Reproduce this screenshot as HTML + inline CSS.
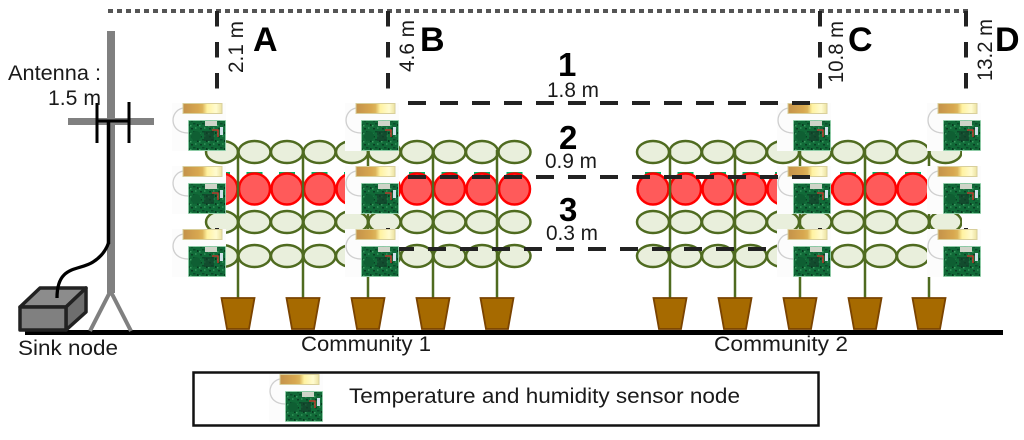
<!DOCTYPE html>
<html><head><meta charset="utf-8"><style>
html,body{margin:0;padding:0;background:#fff}
svg{display:block}
text{font-family:"Liberation Sans",sans-serif;fill:#1a1a1a}
.b{font-weight:bold;fill:#000;font-size:34px}
.n{font-weight:bold;fill:#000;font-size:33px}
.t{font-size:21px}
.e{fill:#e9efdc;stroke:#4f6b20;stroke-width:2.500}
.r{fill:#ff5a5a;stroke:#f00;stroke-width:2.500}
</style></head><body>
<svg width="1024" height="440" viewBox="0 0 1024 440" xmlns="http://www.w3.org/2000/svg">
<defs>
<linearGradient id="g1" x1="0" x2="1" y1="0" y2="0">
<stop offset="0" stop-color="#c4924a"/><stop offset=".4" stop-color="#d8a850"/><stop offset=".5" stop-color="#dcb45a"/><stop offset=".62" stop-color="#fff2a0"/><stop offset=".85" stop-color="#fffbd0"/><stop offset="1" stop-color="#ece2a0"/>
</linearGradient>
<pattern id="noise" width="9" height="8" patternUnits="userSpaceOnUse">
<rect width="9" height="8" fill="#116a38"/>
<rect x="1" y="1" width="2" height="1.500" fill="#0a3f24"/>
<rect x="5" y="0" width="1.500" height="2" fill="#2a8a52"/>
<rect x="3" y="4" width="2.500" height="1.500" fill="#0b4a2a"/>
<rect x="7" y="5" width="1.500" height="2" fill="#083a20"/>
<rect x="0" y="6" width="1.500" height="1.500" fill="#3a9a60"/>
</pattern>
<g id="sen">
<rect x="0" y="0" width="54" height="48" fill="#fcfcfc"/>
<path d="M11 5 C-3 8 -3 30 16 30" fill="none" stroke="#cfcfcf" stroke-width="1.300"/>
<rect x="11" y="0.500" width="39" height="10" fill="url(#g1)" stroke="#d8cf9c" stroke-width="1"/>
<rect x="16.500" y="17.500" width="37" height="30" fill="url(#noise)" stroke="#8fd0a8" stroke-width=".8"/>
<rect x="33" y="18" width="12" height="5" fill="#cfd4c8"/>
<circle cx="24" cy="33" r="5" fill="#0f5f33"/>
<rect x="32" y="28" width="10" height="10" fill="#12402b" opacity=".7"/>
<path d="M40 27 h6 v7" fill="none" stroke="#d8322a" stroke-width="1.300"/>
<rect x="48" y="24" width="3" height="8" fill="#cfe0e8"/>
</g>
<g id="pot"><path d="M-16.500 0 H16.500 L11 31 H-11 Z" fill="#a66a00" stroke="#7a4300" stroke-width="1.800"/></g>
<g id="row1">
<ellipse class="e" cx="0" cy="0" rx="16" ry="11"/><ellipse class="e" cx="32.500" cy="0" rx="16" ry="11"/><ellipse class="e" cx="65" cy="0" rx="16" ry="11"/><ellipse class="e" cx="97.500" cy="0" rx="16" ry="11"/><ellipse class="e" cx="130" cy="0" rx="16" ry="11"/><ellipse class="e" cx="162.500" cy="0" rx="16" ry="11"/><ellipse class="e" cx="195" cy="0" rx="16" ry="11"/><ellipse class="e" cx="227.500" cy="0" rx="16" ry="11"/><ellipse class="e" cx="260" cy="0" rx="16" ry="11"/><ellipse class="e" cx="292.500" cy="0" rx="16" ry="11"/>
</g>
<g id="tom">
<rect x="-8" y="-17" width="16" height="3" fill="#00b060"/><circle class="r" cx="0" cy="0" r="15.500"/>
</g>
<g id="toms">
<use href="#tom" x="0"/><use href="#tom" x="32.500"/><use href="#tom" x="65"/><use href="#tom" x="97.500"/><use href="#tom" x="130"/><use href="#tom" x="162.500"/><use href="#tom" x="195"/><use href="#tom" x="227.500"/><use href="#tom" x="260"/><use href="#tom" x="292.500"/>
</g>
<g id="stems" stroke="#4f6b20" stroke-width="2.500">
<line x1="238" y1="150" x2="238" y2="298"/><line x1="303" y1="150" x2="303" y2="298"/><line x1="368" y1="150" x2="368" y2="298"/><line x1="433" y1="150" x2="433" y2="298"/><line x1="497" y1="150" x2="497" y2="298"/>
<line x1="670" y1="150" x2="670" y2="298"/><line x1="735" y1="150" x2="735" y2="298"/><line x1="800" y1="150" x2="800" y2="298"/><line x1="865" y1="150" x2="865" y2="298"/><line x1="929" y1="150" x2="929" y2="298"/>
</g>
</defs>

<!-- ground -->
<rect x="25" y="330" width="978" height="5" fill="#000"/>

<!-- top dotted -->
<line x1="108" y1="11" x2="970" y2="11" stroke="#555" stroke-width="4" stroke-dasharray="5 4"/>

<!-- plants -->
<use href="#row1" x="222" y="152"/><use href="#toms" x="222" y="189"/><use href="#row1" x="222" y="222"/><use href="#row1" x="222" y="256"/>
<use href="#row1" x="653" y="152"/><use href="#toms" x="653" y="189"/><use href="#row1" x="653" y="222"/><use href="#row1" x="653" y="256"/>
<rect x="532" y="130" width="103" height="140" fill="#fff"/>
<rect x="962" y="130" width="62" height="140" fill="#fff"/>
<use href="#stems"/>

<!-- pots -->
<use href="#pot" x="238" y="298"/><use href="#pot" x="303" y="298"/><use href="#pot" x="368" y="298"/><use href="#pot" x="433" y="298"/><use href="#pot" x="497" y="298"/>
<use href="#pot" x="670" y="298"/><use href="#pot" x="735" y="298"/><use href="#pot" x="800" y="298"/><use href="#pot" x="865" y="298"/><use href="#pot" x="929" y="298"/>

<!-- vertical dashes -->
<g stroke="#222" stroke-width="4" stroke-dasharray="15.500 15.500">
<line x1="217" y1="11" x2="217" y2="240"/>
<line x1="388" y1="11" x2="388" y2="240"/>
<line x1="820" y1="11" x2="820" y2="240"/>
<line x1="966" y1="11" x2="966" y2="240"/>
</g>

<!-- row 3 dash runs behind the sensors -->
<line x1="396" y1="249" x2="767" y2="249" stroke="#222" stroke-width="4" stroke-dasharray="18 14"/>

<!-- sensors -->
<use href="#sen" x="172" y="103"/><use href="#sen" x="172" y="166"/><use href="#sen" x="172" y="229"/>
<use href="#sen" x="345" y="103"/><use href="#sen" x="345" y="166"/><use href="#sen" x="345" y="229"/>
<use href="#sen" x="777" y="103"/><use href="#sen" x="777" y="166"/><use href="#sen" x="777" y="229"/>
<use href="#sen" x="927" y="103"/><use href="#sen" x="927" y="166"/><use href="#sen" x="927" y="229"/>

<!-- horizontal dashes -->
<g stroke="#222" stroke-width="4" stroke-dasharray="18 14">
<line x1="408" y1="103" x2="810" y2="103"/>
<line x1="408" y1="177" x2="810" y2="177"/>
</g>

<!-- antenna -->
<rect x="107" y="31" width="8" height="262" fill="#808080"/>
<rect x="68" y="118" width="86" height="7" fill="#808080"/>
<path d="M110 292 L90 331 M111 292 L131 331" stroke="#808080" stroke-width="4" fill="none"/>
<g stroke="#000" fill="none">
<path d="M97 103 V143 M129 102 V143" stroke-width="3"/>
<path d="M97 121 H129" stroke-width="3"/>
<path d="M108.500 121 V244" stroke-width="3.500"/>
</g>

<!-- sink box -->
<g stroke="#222" stroke-width="3.500" stroke-linejoin="round">
<path d="M20 307 L40 288 H86 L66 307 Z" fill="#8c8c8c"/>
<path d="M66 307 L86 288 V312 L66 330 Z" fill="#6e6e6e"/>
<rect x="20" y="307" width="46" height="23" fill="#808080"/>
</g>
<path d="M57 298 C57 288 59 280 64 275 C72 267 84 268 93 262 C101 257 106 250 108.500 243" stroke="#000" stroke-width="3.300" fill="none"/>

<!-- labels -->
<text class="t" x="8" y="80" textLength="93" lengthAdjust="spacingAndGlyphs">Antenna :</text>
<text class="t" x="48" y="105" textLength="53" lengthAdjust="spacingAndGlyphs">1.5 m</text>
<text class="b" x="253" y="51">A</text>
<text class="b" x="420" y="51">B</text>
<text class="b" x="848" y="51">C</text>
<text class="b" x="995" y="51">D</text>

<text class="t" transform="translate(243,73) rotate(-90)" textLength="52" lengthAdjust="spacingAndGlyphs">2.1 m</text>
<text class="t" transform="translate(414,72) rotate(-90)" textLength="52" lengthAdjust="spacingAndGlyphs">4.6 m</text>
<text class="t" transform="translate(843,83) rotate(-90)" textLength="62" lengthAdjust="spacingAndGlyphs">10.8 m</text>
<text class="t" transform="translate(992,81) rotate(-90)" textLength="62" lengthAdjust="spacingAndGlyphs">13.2 m</text>

<text class="n" x="558" y="76">1</text>
<text class="n" x="559" y="149">2</text>
<text class="n" x="559" y="221">3</text>
<text class="t" x="547" y="97" textLength="52" lengthAdjust="spacingAndGlyphs">1.8 m</text>
<text class="t" x="545" y="168" textLength="52" lengthAdjust="spacingAndGlyphs">0.9 m</text>
<text class="t" x="546" y="240" textLength="52" lengthAdjust="spacingAndGlyphs">0.3 m</text>

<text class="t" x="18" y="355" textLength="100" lengthAdjust="spacingAndGlyphs">Sink node</text>
<text class="t" x="301" y="351" textLength="130" lengthAdjust="spacingAndGlyphs">Community 1</text>
<text class="t" x="714" y="351" textLength="134" lengthAdjust="spacingAndGlyphs">Community 2</text>

<!-- legend -->
<rect x="193.500" y="372.500" width="625" height="53" fill="#fff" stroke="#111" stroke-width="2.500"/>
<use href="#sen" x="269" y="374"/>
<text class="t" x="349" y="403" textLength="391" lengthAdjust="spacingAndGlyphs">Temperature and humidity sensor node</text>
</svg>
</body></html>
